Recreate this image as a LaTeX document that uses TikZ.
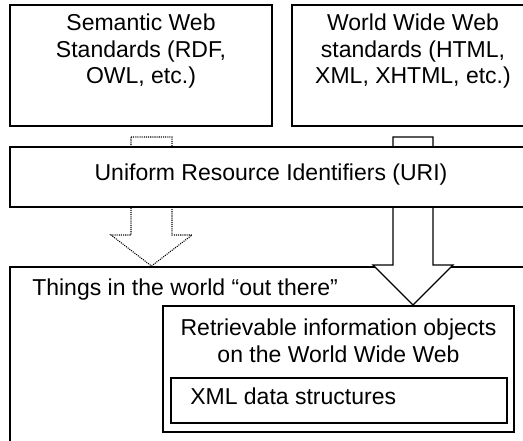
\documentclass[tikz,border=0pt]{standalone}
\usepackage{fontspec}
\setmainfont{Liberation Sans}
\usetikzlibrary{fit}
\tikzstyle{box} = [rectangle, 
draw=black, 
fill=white, 
inner sep=0pt, 
line width=1pt]
\tikzstyle{txt} = [inner sep=0pt, 
align=center, 
font=\fontsize{17.25pt}{19.9pt}\selectfont]
\tikzstyle{solidarrow} = [draw=black, fill=white, line width=1pt, line join=miter]
\tikzstyle{dotarrow} = [draw=black, fill=white, line width=0.8pt, 
dash pattern=on 0.8pt off 0.8pt]

\begin{document}
\begin{tikzpicture}[x=0.75pt, y=-0.75pt]
\path [use as bounding box, clip] (0,0) rectangle (523,441);

\node (sw) [box, fit={(10,5) (272,126)}] {};
\node (www) [box, fit={(292,5) (534,126)}] {};
\node (things) [box, fit={(10,267) (532,470)}] {};

% arrows go under the URI box
\draw [dotarrow] (131,137) -- (172,137) -- (172,235) -- (192,235) -- (151.5,266) -- (111,235) -- (131,235) -- cycle;
\draw [solidarrow] (393,137) -- (433,137) -- (433,265) -- (453,265) -- (413,305) -- (373,265) -- (393,265) -- cycle;

\node (uri) [box, fit={(10,147) (532,207)}] {};
\node (rio) [box, fit={(163,306) (514,432)}] {};
\node (xml) [box, fit={(171,378) (507,423)}] {};

\node (swtext) [txt, anchor=north] at (141,14) {Semantic Web\\Standards (RDF,\\OWL, etc.)};
\node (wwwtext) [txt, anchor=north] at (413,14) {World Wide Web\\standards (HTML,\\XML, XHTML, etc.)};
\node (uritext) [txt, anchor=north] at (271,164) {Uniform Resource Identifiers (URI)};
\node (thingstext) [txt, anchor=north west] at (32,279) {Things in the world “out there”};
\node (riotext) [txt, anchor=north] at (338.5,319) {Retrievable information objects\\on the World Wide Web};
\node (xmltext) [txt, anchor=north west] at (190,388) {XML data structures};

\end{tikzpicture}
\end{document}
